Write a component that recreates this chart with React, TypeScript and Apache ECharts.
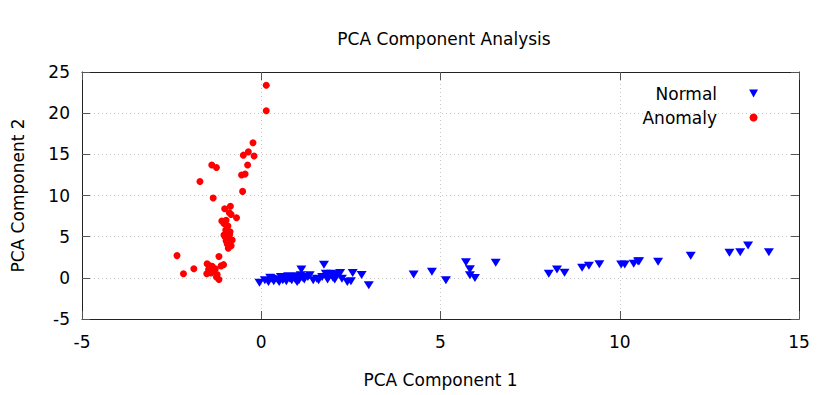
import React, { useEffect, useRef } from "react";
import * as echarts from "echarts";

const titleText = "PCA Component Analysis";
const xAxisName = "PCA Component 1";
const yAxisName = "PCA Component 2";
const xTicks = [-5, 0, 5, 10, 15];
const yTicks = [-5, 0, 5, 10, 15, 20, 25];

const normalData: [number, number][] = [
  [-0.05, -0.6], [0.1, -0.3], [0.2, -0.5], [0.25, 0.0], [0.3, -0.1], [0.35, -0.4],
  [0.45, -0.2], [0.5, -0.5], [0.55, 0.1], [0.6, -0.3], [0.65, 0.0], [0.7, -0.4],
  [0.75, 0.2], [0.8, -0.1], [0.85, -0.3], [0.9, 0.1], [0.95, -0.2], [1.0, 0.2],
  [1.0, -0.5], [1.05, -0.3], [1.1, 0.3], [1.12, 1.0], [1.15, 0.0], [1.2, -0.2],
  [1.3, 0.1], [1.35, 0.3], [1.45, -0.3], [1.55, -0.1], [1.6, -0.3], [1.7, 0.1],
  [1.75, 1.6], [1.8, 0.5], [1.85, -0.2], [1.9, 0.2], [1.95, 0.5], [2.0, 0.0],
  [2.05, -0.2], [2.1, 0.4], [2.2, 0.6], [2.25, -0.1], [2.4, -0.5], [2.55, 0.6],
  [2.5, -0.4], [2.8, 0.35], [3.0, -0.9],
  [4.25, 0.4], [4.76, 0.75], [5.15, -0.3], [5.71, 1.9], [5.82, 1.05], [5.82, 0.3],
  [5.96, -0.02], [6.54, 1.82], [8.02, 0.5], [8.25, 1.02], [8.46, 0.62], [8.95, 1.22],
  [9.14, 1.46], [9.43, 1.66], [10.04, 1.62], [10.14, 1.62], [10.39, 1.7], [10.51, 1.97],
  [10.54, 2.02], [11.07, 1.95], [11.98, 2.68], [13.06, 3.04], [13.36, 3.12], [13.58, 3.92],
  [14.16, 3.12],
];

const anomalyData: [number, number][] = [
  [0.14, 23.4], [0.14, 20.3], [-0.23, 16.4], [-0.36, 15.3], [-0.5, 14.9], [-0.2, 14.8],
  [-0.38, 13.7], [-1.38, 13.7], [-1.25, 13.4], [-0.55, 12.5], [-0.45, 12.6], [-1.71, 11.7],
  [-0.52, 10.5], [-1.34, 9.7], [-0.86, 8.7], [-1.02, 8.4], [-0.89, 7.9], [-0.84, 7.7],
  [-0.69, 7.3], [-1.1, 6.9], [-0.98, 7.0], [-1.04, 6.6], [-0.93, 6.3], [-0.99, 5.8],
  [-0.87, 5.6], [-1.04, 5.2], [-0.9, 4.9], [-0.98, 4.5], [-0.81, 4.6], [-0.95, 4.1],
  [-0.84, 3.9], [-0.92, 3.6], [-1.01, 5.0], [-0.88, 5.3], [-2.35, 2.7], [-1.18, 2.6],
  [-1.88, 1.1], [-2.17, 0.5], [-1.51, 1.7], [-1.37, 1.4], [-1.12, 1.45], [-1.47, 1.0],
  [-1.28, 1.1], [-1.4, 0.6], [-1.23, 0.4], [-1.18, -0.2], [-1.52, 0.5], [-1.32, 0.9],
  [-1.45, 1.5], [-1.25, 0.1], [-1.05, 1.6],
];

const FONT = "DejaVu Sans";
const downTriangle = "path://M0,0 L10,0 L5,9 Z";

export default function App() {
  const ref = useRef<HTMLDivElement>(null);
  useEffect(() => {
    if (!ref.current) return;
    const chart = echarts.init(ref.current, null, { renderer: "svg" });
    const gridLine = { show: true, lineStyle: { color: "#c8c8c8", type: [1, 3] as any, width: 1 } };
    const axisLine = { show: true, onZero: false, lineStyle: { color: "#222", width: 1 } };
    const tick = { show: true, inside: true, length: 8, lineStyle: { color: "#555", width: 1 } };
    chart.setOption({
      animation: false,
      backgroundColor: "#fff",
      textStyle: { fontFamily: FONT },
      title: {
        text: titleText,
        left: 439,
        top: 25,
        textAlign: "center",
        textStyle: { fontFamily: FONT, fontSize: 17, fontWeight: "normal", color: "#000" },
      },
      legend: {
        orient: "vertical",
        right: 67,
        top: 80,
        align: "right",
        itemWidth: 9,
        itemHeight: 8,
        itemGap: 7,
        textStyle: { fontFamily: FONT, fontSize: 17, color: "#000", padding: [0, 27, 0, 0] },
        data: [
          { name: "Normal", icon: downTriangle },
          { name: "Anomaly", icon: "circle" },
        ],
      },
      grid: { left: 82, right: 31, top: 72, bottom: 76 },
      xAxis: [
        {
          type: "value",
          min: xTicks[0],
          max: xTicks[xTicks.length - 1],
          interval: 5,
          name: xAxisName,
          nameLocation: "middle",
          nameGap: 52,
          nameTextStyle: { fontFamily: FONT, fontSize: 17, color: "#000" },
          axisLine,
          axisTick: tick,
          axisLabel: { fontFamily: FONT, fontSize: 17, color: "#000", margin: 14 },
          splitLine: gridLine,
        },
        {
          type: "value",
          position: "top",
          min: xTicks[0],
          max: xTicks[xTicks.length - 1],
          interval: 5,
          axisLine,
          axisTick: tick,
          axisLabel: { show: false },
          splitLine: { show: false },
        },
      ],
      yAxis: [
        {
          type: "value",
          min: yTicks[0],
          max: yTicks[yTicks.length - 1],
          interval: 5,
          name: yAxisName,
          nameLocation: "middle",
          nameGap: 56,
          nameTextStyle: { fontFamily: FONT, fontSize: 17, color: "#000" },
          axisLine,
          axisTick: tick,
          axisLabel: { fontFamily: FONT, fontSize: 17, color: "#000", margin: 12 },
          splitLine: gridLine,
        },
        {
          type: "value",
          position: "right",
          min: yTicks[0],
          max: yTicks[yTicks.length - 1],
          interval: 5,
          axisLine,
          axisTick: tick,
          axisLabel: { show: false },
          splitLine: { show: false },
        },
      ],
      series: [
        {
          name: "Normal",
          type: "scatter",
          data: normalData,
          symbol: downTriangle,
          symbolSize: [10, 8],
          itemStyle: { color: "#0000ff", opacity: 1 },
        },
        {
          name: "Anomaly",
          type: "scatter",
          data: anomalyData,
          symbol: "circle",
          symbolSize: 7,
          itemStyle: { color: "#ff0000", opacity: 1 },
        },
      ],
    });
    return () => chart.dispose();
  }, []);
  return <div ref={ref} style={{ position: "fixed", left: 0, top: 0, width: 830, height: 395 }} />;
}
